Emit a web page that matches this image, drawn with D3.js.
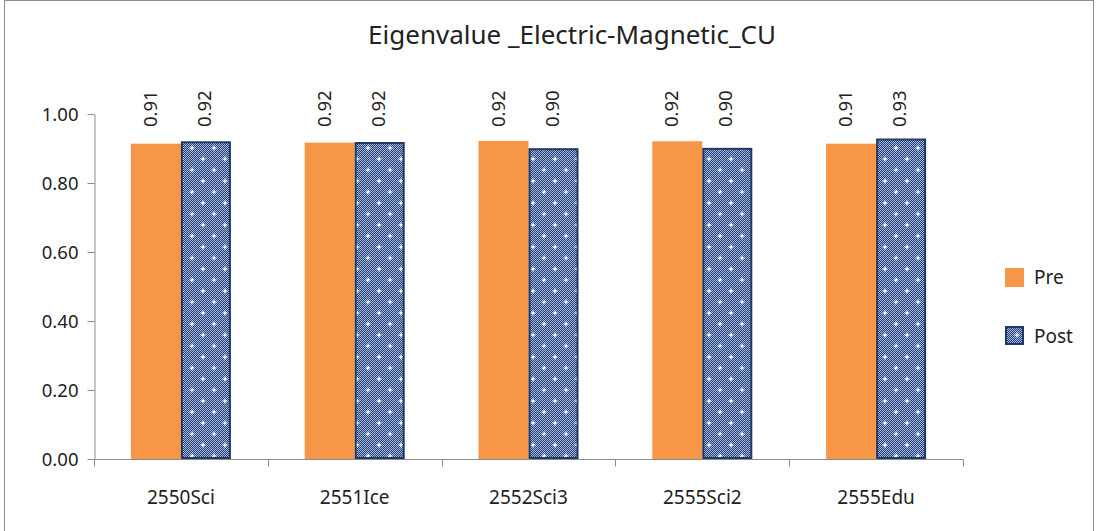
<!DOCTYPE html>
<html>
<head>
<meta charset="utf-8">
<script src="https://cdn.jsdelivr.net/npm/d3@7"></script>
<style>
  html, body { margin: 0; padding: 0; background: #fff; }
  svg text { font-family: "Noto Sans", "Open Sans", sans-serif; fill: #222; }
</style>
</head>
<body>
<svg id="chart" width="1098" height="531"></svg>
<script>
// Eigenvalue by cohort, before and after instruction
const categories = ["2550Sci", "2551Ice", "2552Sci3", "2555Sci2", "2555Edu"];
const preValues  = [0.914, 0.917, 0.922, 0.921, 0.914];
const postValues = [0.918, 0.916, 0.898, 0.899, 0.926];
const seriesNames = ["Pre", "Post"];
const yTicks = [0, 0.2, 0.4, 0.6, 0.8, 1.0];

const svg = d3.select("#chart");
const H = 531;
const m = { left: 94, right: 963, top: 114, bottom: 459 };

// outer frame
svg.append("rect")
  .attr("x", 4.5).attr("y", 0.5)
  .attr("width", 1089).attr("height", H + 10)
  .attr("fill", "none").attr("stroke", "#8c8c8c").attr("stroke-width", 1);

// patterned fill for the Post series: fine checker with staggered white sparkles
const defs = svg.append("defs");
const pat = defs.append("pattern")
  .attr("id", "postPattern").attr("patternUnits", "userSpaceOnUse")
  .attr("width", 22).attr("height", 22);
pat.append("rect").attr("width", 22).attr("height", 22).attr("fill", "#22407c");
for (let yy = 0; yy < 22; yy += 1) {
  for (let xx = yy % 2; xx < 22; xx += 2) {
    pat.append("rect").attr("x", xx).attr("y", yy).attr("width", 1).attr("height", 1)
      .attr("fill", "#a9b7d6");
  }
}
[[5, 5], [16, 16]].forEach(([cx, cy]) => {
  pat.append("rect").attr("x", cx - 2.5).attr("y", cy - 0.5).attr("width", 5).attr("height", 1).attr("fill", "#fff");
  pat.append("rect").attr("x", cx - 0.5).attr("y", cy - 2.5).attr("width", 1).attr("height", 5).attr("fill", "#fff");
  pat.append("rect").attr("x", cx - 1).attr("y", cy - 1).attr("width", 2).attr("height", 2).attr("fill", "#fff");
});

const x = d3.scaleBand().domain(categories).range([m.left, m.right]).paddingInner(0).paddingOuter(0);
const y = d3.scaleLinear().domain([0, 1]).range([m.bottom, m.top]);
const barW = 50;

// title
svg.append("text")
  .attr("x", 572).attr("y", 44)
  .attr("text-anchor", "middle")
  .style("font-size", "26px")
  .text("Eigenvalue _Electric-Magnetic_CU");

// y axis
const yAxis = d3.axisLeft(y).tickValues(yTicks).tickFormat(d3.format(".2f")).tickSize(7).tickSizeOuter(0);
const gy = svg.append("g").attr("transform", `translate(${m.left + 0.5},0)`).call(yAxis);
gy.selectAll("path, line").attr("stroke", "#8c8c8c");
gy.selectAll("text").style("font-size", "18.5px").attr("fill", "#222").attr("x", -16).attr("dy", "0.35em");

// x axis with ticks between categories
const gx = svg.append("g").attr("transform", `translate(0,${m.bottom + 0.5})`);
gx.append("line").attr("x1", m.left).attr("x2", m.right).attr("stroke", "#8c8c8c");
const boundaries = categories.map(c => x(c)).concat([m.right]);
gx.selectAll("line.tick").data(boundaries).join("line")
  .attr("class", "tick")
  .attr("x1", d => Math.round(d) + 0.5).attr("x2", d => Math.round(d) + 0.5)
  .attr("y1", 0).attr("y2", 7).attr("stroke", "#8c8c8c");
gx.selectAll("text").data(categories).join("text")
  .attr("x", d => x(d) + x.bandwidth() / 2)
  .attr("y", 44)
  .attr("text-anchor", "middle")
  .style("font-size", "19px")
  .text(d => d);

const fmt = d3.format(".2f");
const groups = svg.append("g").selectAll("g").data(categories).join("g");

// Pre bars
groups.append("rect")
  .attr("x", d => x(d) + x.bandwidth() / 2 - barW)
  .attr("y", (d, i) => y(preValues[i]))
  .attr("width", barW)
  .attr("height", (d, i) => y(0) - y(preValues[i]))
  .attr("fill", "#f79646");

// Post bars
groups.append("rect")
  .attr("x", d => x(d) + x.bandwidth() / 2 + 1)
  .attr("y", (d, i) => y(postValues[i]))
  .attr("width", barW - 2)
  .attr("height", (d, i) => y(0) - y(postValues[i]) - 1)
  .attr("fill", "url(#postPattern)")
  .attr("stroke", "#1f3864").attr("stroke-width", 2);

// value labels, rotated
groups.append("text")
  .attr("transform", d => `translate(${x(d) + x.bandwidth() / 2 - barW / 2 + 1},127) rotate(-90)`)
  .style("font-size", "18.5px")
  .text((d, i) => fmt(preValues[i]));
groups.append("text")
  .attr("transform", d => `translate(${x(d) + x.bandwidth() / 2 + barW / 2 + 5},127) rotate(-90)`)
  .style("font-size", "18.5px")
  .text((d, i) => fmt(postValues[i]));

// legend
const legend = svg.append("g");
const legendY = [268, 327];
legend.selectAll("rect").data(seriesNames).join("rect")
  .attr("x", (d, i) => i === 0 ? 1005 : 1006)
  .attr("y", (d, i) => legendY[i])
  .attr("width", (d, i) => i === 0 ? 19 : 17)
  .attr("height", (d, i) => i === 0 ? 19 : 17)
  .attr("fill", (d, i) => i === 0 ? "#f79646" : "url(#postPattern)")
  .attr("stroke", (d, i) => i === 0 ? "none" : "#1f3864")
  .attr("stroke-width", 2);
legend.selectAll("text").data(seriesNames).join("text")
  .attr("x", 1034)
  .attr("y", (d, i) => legendY[i] + 16)
  .style("font-size", "19px")
  .text(d => d);
</script>
</body>
</html>
